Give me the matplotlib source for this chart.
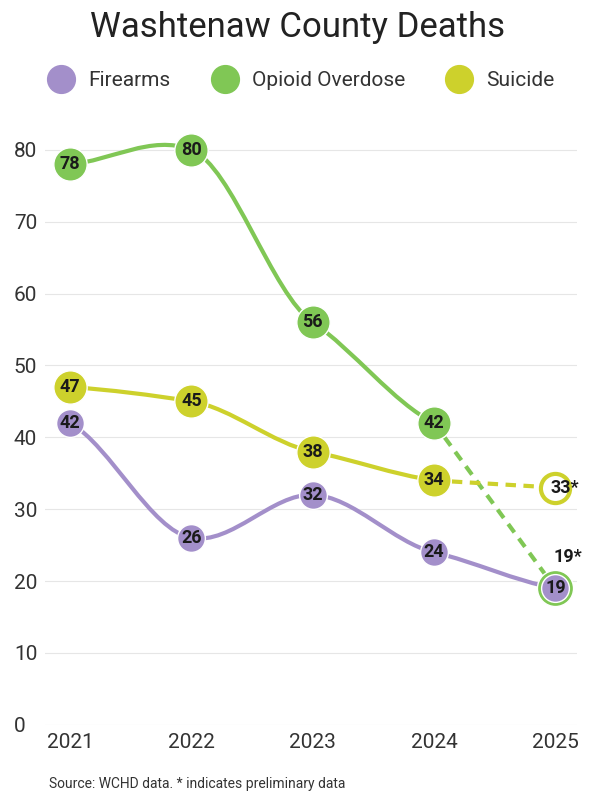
import matplotlib
matplotlib.use("Agg")
import matplotlib.pyplot as plt
from matplotlib.path import Path
from matplotlib.patches import PathPatch
from matplotlib.lines import Line2D

plt.rcParams['font.family'] = ['Roboto', 'DejaVu Sans']

years = [2021, 2022, 2023, 2024, 2025]
firearms = [42, 26, 32, 24, 19]
opioid = [78, 80, 56, 42, 19]
suicide = [47, 45, 38, 34, 33]

purple = '#a38fca'
green = '#80c755'
yellow = '#cdd12c'


def smooth_path(xs, ys, k=0.6):
    # cardinal-style bezier through the points
    n = len(xs)
    t = []
    for i in range(n):
        a = max(i - 1, 0)
        b = min(i + 1, n - 1)
        t.append(k * (ys[b] - ys[a]) / (xs[b] - xs[a]))
    verts = [(xs[0], ys[0])]
    codes = [Path.MOVETO]
    for i in range(n - 1):
        h = (xs[i + 1] - xs[i]) / 3
        verts += [(xs[i] + h, ys[i] + t[i] * h),
                  (xs[i + 1] - h, ys[i + 1] - t[i + 1] * h),
                  (xs[i + 1], ys[i + 1])]
        codes += [Path.CURVE4] * 3
    return Path(verts, codes)


fig = plt.figure(figsize=(5.95, 8), dpi=100)
ax = fig.add_axes([0.075, 0.094, 0.895, 0.77])
ax.set_xlim(2021 - 0.21, 2025 + 0.18)
ax.set_ylim(0, 85.7)

# solid parts
ax.add_patch(PathPatch(smooth_path(years, firearms), fill=False, ec=purple, lw=3, zorder=2))
ax.add_patch(PathPatch(smooth_path(years[:4], opioid[:4]), fill=False, ec=green, lw=3, zorder=2))
ax.add_patch(PathPatch(smooth_path(years[:4], suicide[:4]), fill=False, ec=yellow, lw=3, zorder=2))
# preliminary dashed parts
ax.plot(years[3:], opioid[3:], color=green, lw=3, ls=(0, (2.5, 1.8)), zorder=2)
ax.plot(years[3:], suicide[3:], color=yellow, lw=3, ls=(0, (2.5, 1.8)), zorder=2)

ms = 24
ax.plot(years[:4], opioid[:4], 'o', ms=ms, color=green, mec='white', mew=1, zorder=3)
ax.plot(years[4], opioid[4], 'o', ms=ms + 2, color=green, mec='white', mew=1, zorder=3)
ax.plot(years[:4], suicide[:4], 'o', ms=ms, color=yellow, mec='white', mew=1, zorder=3)
ax.plot(years[4], suicide[4], 'o', ms=ms - 3, color='white', mec=yellow, mew=3, zorder=3)
ax.plot(years, firearms, 'o', ms=ms - 4, color=purple, mec='white', mew=1, zorder=4)

lab = dict(ha='center', va='center', fontsize=13, fontweight='bold', color='#1a1a1a', zorder=5)
for i in range(5):
    ax.text(years[i], firearms[i], str(firearms[i]), **lab)
    if i < 4:
        ax.text(years[i], opioid[i], str(opioid[i]), **lab)
        ax.text(years[i], suicide[i], str(suicide[i]), **lab)
ax.text(years[4] + 0.08, suicide[4], '33*', **lab)
ax.text(years[4] + 0.1, opioid[4] + 4.3, '19*', **lab)

ax.set_yticks(range(0, 81, 10))
ax.set_xticks(years)
ax.tick_params(length=0, labelsize=15, colors='#333333', pad=6)
ax.grid(axis='y', color='#e6e6e6', lw=0.8)
ax.set_axisbelow(True)
for s in ax.spines.values():
    s.set_visible(False)
for lbl in ax.get_yticklabels():
    lbl.set_ha('left')
    lbl.set_x(-0.042)

fig.text(0.5, 0.965, 'Washtenaw County Deaths', ha='center', va='center', fontsize=25, color='#222222')
handles = [Line2D([], [], ls='', marker='o', ms=20, color=c) for c in (purple, green, yellow)]
fig.legend(handles, ['Firearms', 'Opioid Overdose', 'Suicide'], loc='center', bbox_to_anchor=(0.5, 0.899),
           ncol=3, frameon=False, fontsize=15, handletextpad=0.3, columnspacing=1.6, labelcolor='#333333')
fig.text(0.082, 0.015, 'Source: WCHD data. * indicates preliminary data', fontsize=10, color='#333333')

fig.savefig('out.png', dpi=100)
